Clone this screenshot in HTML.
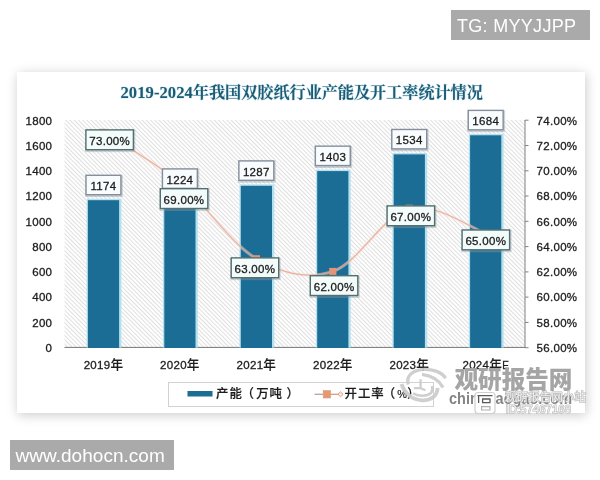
<!DOCTYPE html>
<html lang="zh"><head><meta charset="utf-8"><title>2019-2024年我国双胶纸行业产能及开工率统计情况</title>
<style>
html,body{margin:0;padding:0;background:#fff;}
body{width:600px;height:480px;overflow:hidden;position:relative;font-family:"Liberation Sans","Noto Sans CJK SC",sans-serif;}
.card{position:absolute;left:17px;top:72px;width:568px;height:341px;background:#fff;box-shadow:1px 2px 11px rgba(0,0,0,0.21);}
.tg{position:absolute;left:451px;top:10px;width:139px;height:30px;background:#aaaaaa;color:#fff;font-size:18px;line-height:32px;text-indent:6px;white-space:nowrap;letter-spacing:0.3px;}
.site{position:absolute;left:10px;top:440px;width:164px;height:30px;background:#aaaaaa;color:#fff;font-size:19px;line-height:31px;text-indent:5.5px;white-space:nowrap;letter-spacing:0.03px;}
svg{position:absolute;left:0;top:0;}
.t{font-family:"Liberation Sans","Noto Sans CJK SC",sans-serif;font-size:11.5px;fill:#1c1c1c;stroke:#1c1c1c;stroke-width:0.3px;letter-spacing:0.3px;}
.lg{font-family:"Liberation Sans","Noto Sans CJK SC",sans-serif;font-size:12.4px;font-weight:500;fill:#1c1c1c;stroke:#1c1c1c;stroke-width:0.2px;letter-spacing:1.0px;}
.ttl{font-family:"Liberation Serif","Noto Serif CJK SC",serif;font-weight:bold;fill:#1d5a74;font-size:16.12px;}
.tl{font-size:16.6px;letter-spacing:0.05px;}
.wm{font-family:"Liberation Sans","Noto Sans CJK SC",sans-serif;}
</style></head><body>
<div class="card"></div>
<div class="tg">TG: MYYJJPP</div>
<div class="site">www.dohocn.com</div>
<svg width="600" height="480" viewBox="0 0 600 480">
<defs>
<pattern id="hatch" width="3" height="3" patternUnits="userSpaceOnUse" patternTransform="rotate(-45)"><rect width="3" height="3" fill="#fefefe"/><rect width="1.0" height="3" fill="#e0e0e0"/></pattern>
<filter id="b1" x="-30%" y="-30%" width="160%" height="160%"><feGaussianBlur stdDeviation="1.2"/></filter>
<filter id="b2" x="-30%" y="-30%" width="160%" height="160%"><feGaussianBlur stdDeviation="0.7"/></filter>
</defs>
<text class="ttl" x="120.5" y="98.3" style="fill:#c4e5ef;stroke:#c4e5ef;stroke-width:1.2px" filter="url(#b2)" opacity="0.7"><tspan class="tl">2019-2024</tspan>年我国双胶纸行业产能及开工率统计情况</text>
<text class="ttl" x="120.5" y="98.3"><tspan class="tl">2019-2024</tspan>年我国双胶纸行业产能及开工率统计情况</text>
<rect x="64.5" y="120.0" width="460.5" height="228.0" fill="url(#hatch)"/>
<path d="M64.5,347.4 H525.5" stroke="#777" stroke-width="1" fill="none"/>
<path d="M525.0,120.0 V348.0 M525.0,120.2 h3.5 M525.0,145.5 h3.5 M525.0,170.8 h3.5 M525.0,196.0 h3.5 M525.0,221.3 h3.5 M525.0,246.6 h3.5 M525.0,271.9 h3.5 M525.0,297.1 h3.5 M525.0,322.4 h3.5 M525.0,347.7 h3.5" stroke="#808080" stroke-width="1" fill="none"/>
<text class="t" x="52.3" y="124.5" text-anchor="end">1800</text>
<text class="t" x="536.6" y="124.5">74.00%</text>
<text class="t" x="52.3" y="149.8" text-anchor="end">1600</text>
<text class="t" x="536.6" y="149.8">72.00%</text>
<text class="t" x="52.3" y="175.1" text-anchor="end">1400</text>
<text class="t" x="536.6" y="175.1">70.00%</text>
<text class="t" x="52.3" y="200.3" text-anchor="end">1200</text>
<text class="t" x="536.6" y="200.3">68.00%</text>
<text class="t" x="52.3" y="225.6" text-anchor="end">1000</text>
<text class="t" x="536.6" y="225.6">66.00%</text>
<text class="t" x="52.3" y="250.9" text-anchor="end">800</text>
<text class="t" x="536.6" y="250.9">64.00%</text>
<text class="t" x="52.3" y="276.2" text-anchor="end">600</text>
<text class="t" x="536.6" y="276.2">62.00%</text>
<text class="t" x="52.3" y="301.4" text-anchor="end">400</text>
<text class="t" x="536.6" y="301.4">60.00%</text>
<text class="t" x="52.3" y="326.7" text-anchor="end">200</text>
<text class="t" x="536.6" y="326.7">58.00%</text>
<text class="t" x="52.3" y="352.0" text-anchor="end">0</text>
<text class="t" x="536.6" y="352.0">56.00%</text>
<rect x="86.6" y="198.8" width="34.8" height="148.8" fill="#b4e1ef" filter="url(#b2)"/>
<rect x="87.9" y="200.2" width="31.2" height="147.8" fill="#1b6d96"/>
<rect x="163.0" y="192.4" width="34.8" height="155.2" fill="#b4e1ef" filter="url(#b2)"/>
<rect x="164.3" y="193.8" width="31.2" height="154.2" fill="#1b6d96"/>
<rect x="239.5" y="184.4" width="34.8" height="163.2" fill="#b4e1ef" filter="url(#b2)"/>
<rect x="240.8" y="185.8" width="31.2" height="162.2" fill="#1b6d96"/>
<rect x="315.9" y="169.7" width="34.8" height="177.9" fill="#b4e1ef" filter="url(#b2)"/>
<rect x="317.2" y="171.1" width="31.2" height="176.9" fill="#1b6d96"/>
<rect x="392.4" y="153.0" width="34.8" height="194.6" fill="#b4e1ef" filter="url(#b2)"/>
<rect x="393.7" y="154.4" width="31.2" height="193.6" fill="#1b6d96"/>
<rect x="468.8" y="133.9" width="34.8" height="213.7" fill="#b4e1ef" filter="url(#b2)"/>
<rect x="470.1" y="135.3" width="31.2" height="212.7" fill="#1b6d96"/>
<path d="M103.5,132.3 C116.2,140.8 154.5,161.8 179.9,182.9 C205.4,204.0 230.9,244.0 256.4,258.7 C281.9,273.5 307.4,279.8 332.9,271.4 C358.3,262.9 383.8,214.5 409.3,208.2 C434.8,201.9 473.0,229.2 485.8,233.4" stroke="#fadbd2" stroke-width="3.0" fill="none" opacity="0.5"/>
<path d="M103.5,132.3 C116.2,140.8 154.5,161.8 179.9,182.9 C205.4,204.0 230.9,244.0 256.4,258.7 C281.9,273.5 307.4,279.8 332.9,271.4 C358.3,262.9 383.8,214.5 409.3,208.2 C434.8,201.9 473.0,229.2 485.8,233.4" stroke="#e4a28d" stroke-width="1.2" fill="none" opacity="0.78"/>
<rect x="99.9" y="128.8" width="7.2" height="7" fill="#e39578"/>
<rect x="176.3" y="179.4" width="7.2" height="7" fill="#e39578"/>
<rect x="252.8" y="255.2" width="7.2" height="7" fill="#e39578"/>
<rect x="329.2" y="267.9" width="7.2" height="7" fill="#e39578"/>
<rect x="405.7" y="204.7" width="7.2" height="7" fill="#e39578"/>
<rect x="482.1" y="229.9" width="7.2" height="7" fill="#e39578"/>
<rect x="85.3" y="175.1" width="37.5" height="22.0" fill="#8f9aa2" opacity="0.42" filter="url(#b2)"/>
<rect x="86.00" y="175.30" width="34.90" height="19.40" fill="#f9fcfe" stroke="#858f9c" stroke-width="1.4"/>
<text class="t" x="103.4" y="190.2" text-anchor="middle">1174</text>
<rect x="161.8" y="168.7" width="37.5" height="22.0" fill="#8f9aa2" opacity="0.42" filter="url(#b2)"/>
<rect x="162.45" y="168.93" width="34.90" height="19.40" fill="#f9fcfe" stroke="#858f9c" stroke-width="1.4"/>
<text class="t" x="179.9" y="183.8" text-anchor="middle">1224</text>
<rect x="238.2" y="160.7" width="37.5" height="22.0" fill="#8f9aa2" opacity="0.42" filter="url(#b2)"/>
<rect x="238.90" y="160.92" width="34.90" height="19.40" fill="#f9fcfe" stroke="#858f9c" stroke-width="1.4"/>
<text class="t" x="256.3" y="175.8" text-anchor="middle">1287</text>
<rect x="314.7" y="146.0" width="37.5" height="22.0" fill="#8f9aa2" opacity="0.42" filter="url(#b2)"/>
<rect x="315.35" y="146.15" width="34.90" height="19.40" fill="#f9fcfe" stroke="#858f9c" stroke-width="1.4"/>
<text class="t" x="332.8" y="161.1" text-anchor="middle">1403</text>
<rect x="391.1" y="129.3" width="37.5" height="22.0" fill="#8f9aa2" opacity="0.42" filter="url(#b2)"/>
<rect x="391.80" y="129.48" width="34.90" height="19.40" fill="#f9fcfe" stroke="#858f9c" stroke-width="1.4"/>
<text class="t" x="409.2" y="144.4" text-anchor="middle">1534</text>
<rect x="467.6" y="110.2" width="37.5" height="22.0" fill="#8f9aa2" opacity="0.42" filter="url(#b2)"/>
<rect x="468.25" y="110.39" width="34.90" height="19.40" fill="#f9fcfe" stroke="#858f9c" stroke-width="1.4"/>
<text class="t" x="485.7" y="125.3" text-anchor="middle">1684</text>
<rect x="85.2" y="129.7" width="50.1" height="22.4" fill="#8f9aa2" opacity="0.42" filter="url(#b2)"/>
<rect x="85.90" y="129.90" width="47.50" height="19.80" fill="#f3fbfb" stroke="#527070" stroke-width="1.4"/>
<text class="t" x="109.7" y="145.0" text-anchor="middle">73.00%</text>
<rect x="159.6" y="188.5" width="50.1" height="22.4" fill="#8f9aa2" opacity="0.42" filter="url(#b2)"/>
<rect x="160.30" y="188.70" width="47.50" height="19.80" fill="#f3fbfb" stroke="#527070" stroke-width="1.4"/>
<text class="t" x="184.0" y="203.8" text-anchor="middle">69.00%</text>
<rect x="230.5" y="257.7" width="50.1" height="22.4" fill="#8f9aa2" opacity="0.42" filter="url(#b2)"/>
<rect x="231.20" y="257.90" width="47.50" height="19.80" fill="#f3fbfb" stroke="#527070" stroke-width="1.4"/>
<text class="t" x="254.9" y="273.0" text-anchor="middle">63.00%</text>
<rect x="309.6" y="275.5" width="50.1" height="22.4" fill="#8f9aa2" opacity="0.42" filter="url(#b2)"/>
<rect x="310.30" y="275.70" width="47.50" height="19.80" fill="#f3fbfb" stroke="#527070" stroke-width="1.4"/>
<text class="t" x="334.1" y="290.8" text-anchor="middle">62.00%</text>
<rect x="386.4" y="205.7" width="50.1" height="22.4" fill="#8f9aa2" opacity="0.42" filter="url(#b2)"/>
<rect x="387.10" y="205.90" width="47.50" height="19.80" fill="#f3fbfb" stroke="#527070" stroke-width="1.4"/>
<text class="t" x="410.8" y="221.0" text-anchor="middle">67.00%</text>
<rect x="461.4" y="229.8" width="50.1" height="22.4" fill="#8f9aa2" opacity="0.42" filter="url(#b2)"/>
<rect x="462.10" y="230.00" width="47.50" height="19.80" fill="#f3fbfb" stroke="#527070" stroke-width="1.4"/>
<text class="t" x="485.8" y="245.1" text-anchor="middle">65.00%</text>
<text class="t" x="103.5" y="369.0" text-anchor="middle">2019<tspan style="font-size:12.6px;font-weight:500;stroke-width:0.15px">年</tspan></text>
<text class="t" x="179.9" y="369.0" text-anchor="middle">2020<tspan style="font-size:12.6px;font-weight:500;stroke-width:0.15px">年</tspan></text>
<text class="t" x="256.4" y="369.0" text-anchor="middle">2021<tspan style="font-size:12.6px;font-weight:500;stroke-width:0.15px">年</tspan></text>
<text class="t" x="332.9" y="369.0" text-anchor="middle">2022<tspan style="font-size:12.6px;font-weight:500;stroke-width:0.15px">年</tspan></text>
<text class="t" x="409.3" y="369.0" text-anchor="middle">2023<tspan style="font-size:12.6px;font-weight:500;stroke-width:0.15px">年</tspan></text>
<text class="t" x="485.8" y="369.0" text-anchor="middle">2024<tspan style="font-size:12.6px;font-weight:500;stroke-width:0.15px">年</tspan><tspan style="font-size:10px">E</tspan></text>
<rect x="168.5" y="382.5" width="265" height="24" fill="#fff" stroke="#d2d2d2" stroke-width="1"/>
<rect x="187.5" y="391" width="25" height="5.5" fill="#1b6d96"/>
<text class="lg" x="216" y="398.3">产能<tspan dx="-1.2">（</tspan><tspan dx="1.2">万吨</tspan><tspan dx="3.5">）</tspan></text>
<path d="M314.5,394.3 H323" stroke="#b9a39b" stroke-width="1.3"/><path d="M330,394.3 H343" stroke="#e09a80" stroke-width="1.3"/>
<rect x="323.2" y="390.6" width="7.4" height="7.4" fill="#e8976e" stroke="#c9a08e" stroke-width="0.6"/>
<path d="M340.5,391.8 l2.6,2.5 l-2.6,2.5 l-2.6,-2.5 z" fill="#fbe6dc" stroke="#e09a80" stroke-width="0.9"/>
<text class="lg" x="344.5" y="398.3">开工率<tspan dx="-2">（</tspan><tspan dx="1.2" style="font-size:11px;font-weight:400">%</tspan><tspan dx="-0.8">）</tspan></text>
<g fill="none" stroke="#cbcbcb" stroke-linecap="butt" opacity="0.92">
<path d="M408.3,384.5 C406,377 411,371 421,369.6 C432,368.4 442,372 445.6,378.3" stroke-width="3.3"/>
<path d="M422,374.4 C431,375.6 439,380 443,387.5" stroke-width="3.4"/>
<path d="M401.5,384 C404,392 411,399.6 422,400.4 C431,400.8 437.3,396 437.6,388" stroke-width="3.8"/>
<path d="M413,393.3 C419,396.6 427,396.6 431,393 C432.6,391 432.6,388 432,386" stroke-width="2.6"/>
<path d="M420.6,379.3 V388.2 H414 M420.6,388.2 L425.5,390.3" stroke-width="2.3"/>
</g>
<text x="454.5" y="388.3" class="wm" font-weight="900" font-size="23.6" fill="#a5a5a5">观研报告网</text>
<text x="449" y="404" class="wm" font-weight="bold" font-size="15.6" fill="#858585" textLength="123" lengthAdjust="spacingAndGlyphs">chinabaogao.com</text>
<g stroke="#b6b6b6" stroke-width="1.2" paint-order="stroke" fill="#fff" fill-opacity="0.8" class="wm">
<text x="505" y="401" font-size="11.5" textLength="81" lengthAdjust="spacingAndGlyphs">观研报告网小站</text>
<text x="505.5" y="413.4" font-size="11.5" textLength="65.5" lengthAdjust="spacingAndGlyphs">ID:57467168</text>
</g>
<rect x="475" y="392.5" width="20" height="21" rx="3" fill="#fff" stroke="#cfcfcf" stroke-width="1.2"/>
<path d="M477.5,395.6 H492.5 M478.6,395.6 V403 M482,399 H490.5 M482,402.6 H490.5 M482.6,399 V402.6 M490,399 V402.6" fill="none" stroke="#5a5a5a" stroke-width="1.3"/>
<path d="M481,406.6 H490.5 M481,410 H490.5 M481.6,406.6 V410 M490,406.6 V410" fill="none" stroke="#b0b0b0" stroke-width="1.1"/>
</svg>
</body></html>
